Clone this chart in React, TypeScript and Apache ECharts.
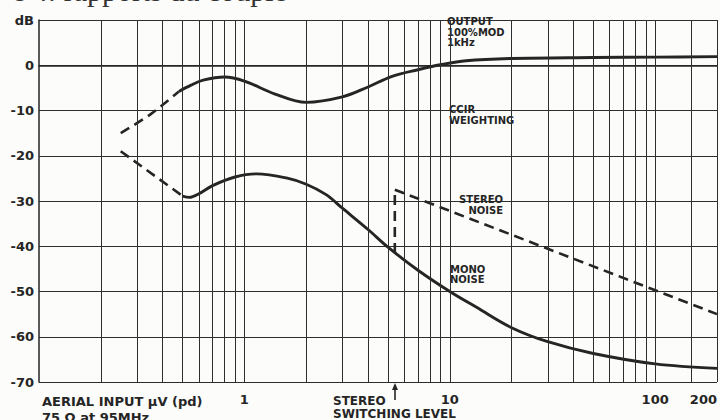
import React, { useEffect, useRef } from "react";
import * as echarts from "echarts";

// ---- data ----
const yTickValues = [10, 0, -10, -20, -30, -40, -50, -60, -70];
const xTickLabels = [1, 10, 100, 200];
const gridX = [0.2, 0.3, 0.4, 0.5, 0.6, 0.7, 0.8, 0.9, 1, 2, 3, 4, 5, 6, 7, 8, 9, 10, 20, 30, 40, 50, 60, 70, 80, 90, 100, 150];

const outputDashed: [number, number][] = [[0.25, -15], [0.35, -10.8], [0.48, -5.8]];
const outputSolid: [number, number][] = [
  [0.48, -5.8], [0.55, -4.4], [0.63, -3.3], [0.8, -2.6], [1.0, -3.5], [1.4, -6.3], [2.0, -8.2],
  [3.0, -7.0], [4.0, -4.8], [5.2, -2.5], [7, -1.0], [9, 0.1], [12, 1.0], [20, 1.5], [50, 1.7], [100, 1.8], [200, 1.9],
];
const monoDashed: [number, number][] = [[0.25, -19], [0.5, -28.9]];
const monoSolid: [number, number][] = [
  [0.5, -28.9], [0.54, -29.2], [0.6, -28.4], [0.7, -26.6], [0.9, -24.7], [1.15, -24.0], [1.6, -24.9],
  [2.0, -26.3], [2.5, -28.6], [3, -31.6], [4, -36.3], [5, -40.2], [7, -45.3], [10, -50], [13.5, -53.5], [20, -58],
  [30, -61.1], [50, -63.7], [100, -66], [200, -67],
];
const switchingLevel = 5.4;
const stereoStep: [number, number][] = [[5.4, -41.5], [5.4, -27.5]];
const stereoNoise: [number, number][] = [[5.4, -27.5], [200, -55]];

const INK = "#252525";
const FONT = "DejaVu Sans";

export default function App() {
  const ref = useRef<HTMLDivElement>(null);
  useEffect(() => {
    if (!ref.current) return;
    const chart = echarts.init(ref.current, undefined, { renderer: "svg" });
    const curve = (data: [number, number][], dashed: boolean, smooth: number) => ({
      type: "line",
      data,
      showSymbol: false,
      symbol: "none",
      smooth,
      z: 3,
      silent: true,
      lineStyle: { color: INK, width: dashed ? 2.6 : 2.9, type: dashed ? [10, 6] : "solid", cap: "butt" },
    });
    chart.setOption({
      animation: false,
      backgroundColor: "#fcfcfa",
      grid: { left: 39, right: 1, top: 20, bottom: 38, show: false },
      xAxis: {
        type: "log",
        logBase: 10,
        min: 0.1,
        max: 200,
        splitLine: { show: false },
        axisTick: { show: false },
        axisLine: { show: true, lineStyle: { color: INK, width: 1.5 } },
        axisLabel: {
          show: true,
          showMaxLabel: true,
          alignMaxLabel: "right",
          margin: 11,
          color: INK,
          fontFamily: FONT,
          fontWeight: "bold",
          fontSize: 13,
          formatter: (v: number) => {
            const hit = xTickLabels.find((t) => Math.abs(t - v) / t < 1e-6);
            return hit !== undefined ? String(hit) : "";
          },
        },
      },
      yAxis: {
        type: "value",
        min: -70,
        max: 10,
        interval: 10,
        axisTick: { show: false },
        axisLine: { show: true, lineStyle: { color: INK, width: 1.5 } },
        splitLine: { show: true, lineStyle: { color: "#2e2e2e", width: 1 } },
        axisLabel: {
          margin: 5,
          color: INK,
          fontFamily: FONT,
          fontWeight: "bold",
          fontSize: 13,
          formatter: (v: number) => (yTickValues.includes(v) ? (v === 10 ? "dB" : String(v)) : ""),
        },
      },
      series: [
        {
          type: "line",
          data: [],
          z: 1,
          silent: true,
          markLine: {
            silent: true,
            symbol: "none",
            label: { show: false },
            lineStyle: { color: "#2e2e2e", width: 1, type: "solid" },
            data: [...gridX.map((v) => ({ xAxis: v })), { xAxis: 200 }],
          },
        },
        curve(outputDashed, true, 0.3),
        curve(outputSolid, false, 0.35),
        curve(monoDashed, true, 0),
        curve(monoSolid, false, 0.35),
        curve(stereoStep, true, 0),
        curve(stereoNoise, true, 0),
      ],
    });

    const p = chart.convertToPixel({ gridIndex: 0 }, [switchingLevel, -70]) as number[];
    const ax = Math.round(p[0]);
    const ay = p[1];
    const txt = (x: number, y: number, text: string, extra: any = {}) => ({
      type: "text",
      x,
      y,
      silent: true,
      style: {
        text,
        fill: INK,
        fontFamily: FONT,
        fontWeight: "bold",
        fontSize: 10,
        verticalAlign: "middle",
        align: "left",
        ...extra,
      },
    });
    chart.setOption({
      graphic: [
        {
          type: "text",
          x: 12,
          y: 5,
          silent: true,
          style: {
            text: "e 4: rapports du couple",
            fill: "#333",
            fontFamily: "Liberation Serif",
            fontSize: 30,
            verticalAlign: "bottom",
          },
        },
        txt(447, 21.5, "OUTPUT"),
        txt(447, 32, "100%MOD"),
        txt(447, 42.5, "1kHz"),
        txt(449, 109.5, "CCIR"),
        txt(449, 120, "WEIGHTING"),
        txt(503, 199.5, "STEREO", { align: "right" }),
        txt(503, 210, "NOISE", { align: "right" }),
        txt(450, 269, "MONO"),
        txt(450, 279.5, "NOISE"),
        txt(42, 401, "AERIAL INPUT µV (pd)", { fontSize: 13 }),
        txt(42, 417, "75 Ω at 95MHz", { fontSize: 13 }),
        txt(333, 400.5, "STEREO", { fontSize: 12 }),
        txt(333, 413.5, "SWITCHING LEVEL", { fontSize: 12 }),
        {
          type: "line",
          silent: true,
          shape: { x1: ax, y1: 400, x2: ax, y2: ay + 6 },
          style: { stroke: INK, lineWidth: 1.6 },
        },
        {
          type: "polygon",
          silent: true,
          shape: { points: [[ax - 3, ay + 8], [ax + 3, ay + 8], [ax, ay + 1]] },
          style: { fill: INK },
        },
      ],
    });
    return () => chart.dispose();
  }, []);
  return (
    <div
      ref={ref}
      style={{ position: "fixed", left: 0, top: 0, width: 720, height: 420, background: "#fcfcfa" }}
    />
  );
}
